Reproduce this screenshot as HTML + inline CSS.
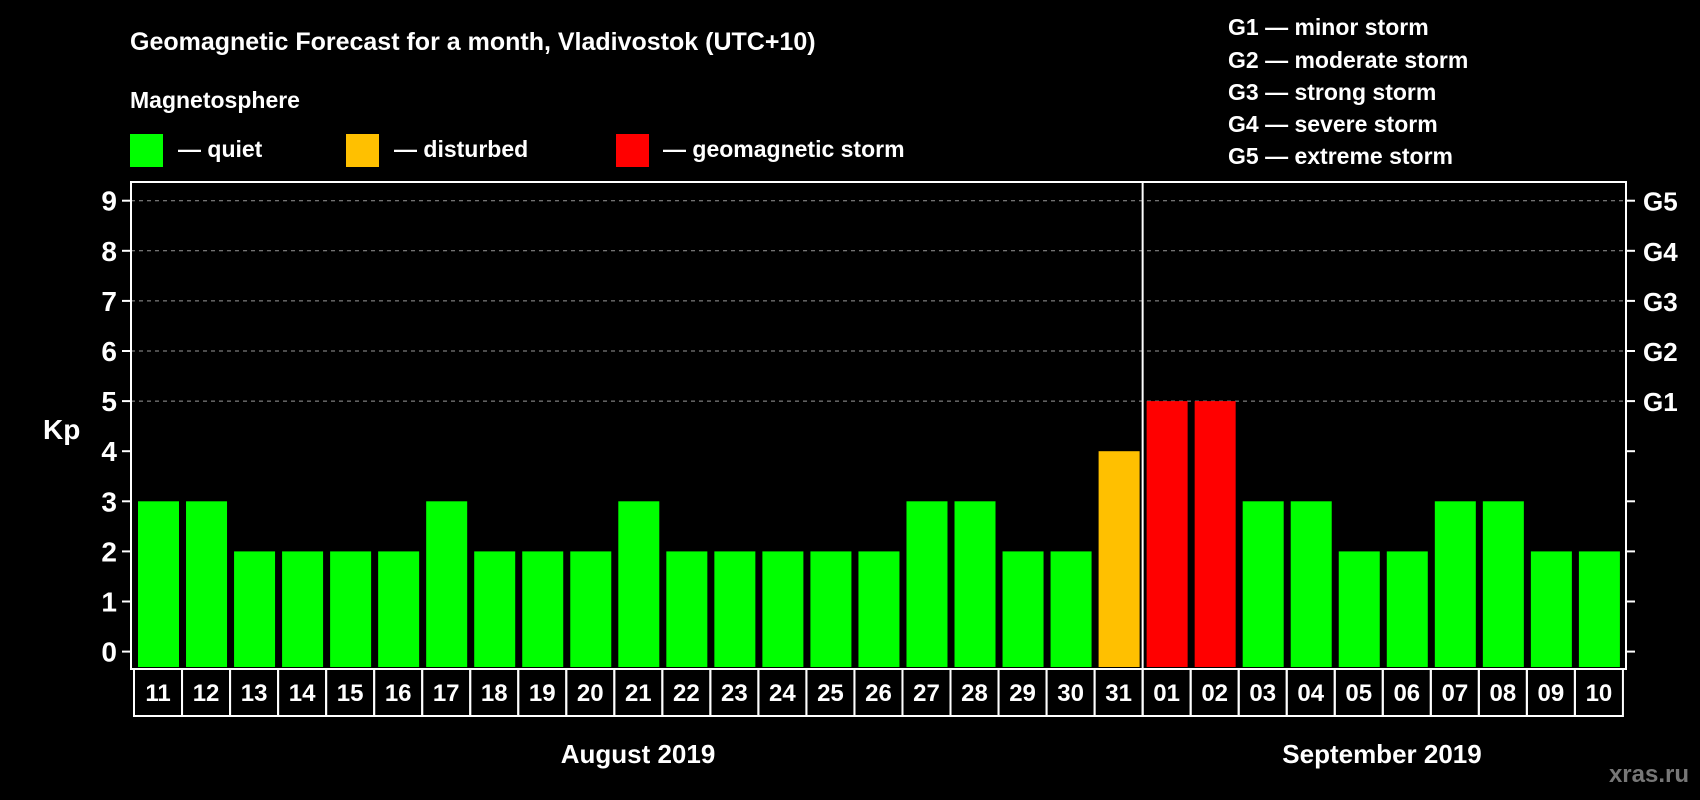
<!DOCTYPE html>
<html><head><meta charset="utf-8"><style>
html,body{margin:0;padding:0;background:#000;}
svg{display:block;font-family:"Liberation Sans",Arial,sans-serif;font-weight:bold;}
</style></head><body>
<svg id="chart" width="1700" height="800" viewBox="0 0 1700 800">
<rect x="0" y="0" width="1700" height="800" fill="#000"/>
<text x="130" y="50" fill="#fff" font-size="25">Geomagnetic Forecast for a month, Vladivostok (UTC+10)</text>
<text x="130" y="108" fill="#fff" font-size="23">Magnetosphere</text>
<g><rect x="130" y="134" width="33" height="33" fill="#00ff00"/><text x="178" y="157" fill="#fff" font-size="23">— quiet</text></g>
<g><rect x="346" y="134" width="33" height="33" fill="#ffc000"/><text x="394" y="157" fill="#fff" font-size="23">— disturbed</text></g>
<g><rect x="616" y="134" width="33" height="33" fill="#ff0000"/><text x="663" y="157" fill="#fff" font-size="23">— geomagnetic storm</text></g>
<g fill="#fff" font-size="23">
<text x="1228" y="35">G1 — minor storm</text>
<text x="1228" y="68">G2 — moderate storm</text>
<text x="1228" y="100">G3 — strong storm</text>
<text x="1228" y="132">G4 — severe storm</text>
<text x="1228" y="164">G5 — extreme storm</text>
</g>
<text x="43" y="439" fill="#fff" font-size="28">Kp</text>
<g id="grid"></g><g id="bars"></g><g id="axes"></g>
<text x="638" y="763" fill="#fff" font-size="26" text-anchor="middle">August 2019</text>
<text x="1382" y="763" fill="#fff" font-size="26" text-anchor="middle">September 2019</text>
<text x="1689" y="782" fill="#777" font-size="24" text-anchor="end">xras.ru</text>
</svg>
<script>
const days = ["11","12","13","14","15","16","17","18","19","20","21","22","23","24","25","26","27","28","29","30","31","01","02","03","04","05","06","07","08","09","10"];
const kpValues = [3,3,2,2,2,2,3,2,2,2,3,2,2,2,2,2,3,3,2,2,4,5,5,3,3,2,2,3,3,2,2];
const yTicks = [0,1,2,3,4,5,6,7,8,9];
const gLabels = ["G1","G2","G3","G4","G5"];
const ns="http://www.w3.org/2000/svg";
const L=131,R=1626,T=182,B=669,cellL=134,cell=48.03,bw=41;
function y(v){return 651.6-v*50.1;}
function x(i){return cellL+i*cell;}
function mk(tag,attrs,parent){const e=document.createElementNS(ns,tag);for(const k in attrs)e.setAttribute(k,attrs[k]);parent.appendChild(e);return e;}
const grid=document.getElementById('grid'),bars=document.getElementById('bars'),axes=document.getElementById('axes');
yTicks.forEach(v=>{
  if(v>=5){const g=mk('line',{x1:L,x2:R,y1:y(v),y2:y(v),stroke:'#999','stroke-width':1,'stroke-dasharray':'4,4'},grid);
  
  }
  const t=mk('line',{x1:L-9,x2:L,y1:y(v),y2:y(v),stroke:'#fff','stroke-width':2},axes);
  
  
  const t2=mk('line',{x1:R,x2:R+9,y1:y(v),y2:y(v),stroke:'#fff','stroke-width':2},axes);
  
  
  const lb=mk('text',{x:L-14,y:y(v)+10,fill:'#fff','font-size':28,'text-anchor':'end'},axes);lb.textContent=v;
  
  
});
gLabels.forEach((g,i)=>{
  const t=mk('text',{x:R+17,y:y(5+i)+10,fill:'#fff','font-size':26},axes);t.textContent=g;
  
  
});
kpValues.forEach((v,i)=>{
  const c=v>=5?'#ff0000':(v>=4?'#ffc000':'#00ff00');
  const b=mk('rect',{x:x(i)+4,y:y(v),width:bw,height:B-2-y(v),fill:c},bars);
  
  
});
const fr=mk('rect',{x:L,y:T,width:R-L,height:B-T,fill:'none',stroke:'#fff','stroke-width':2},axes);


days.forEach((d,i)=>{
  const r=mk('rect',{x:x(i),y:B,width:cell,height:47,fill:'none',stroke:'#fff','stroke-width':2},axes);
  
  
  const t=mk('text',{x:x(i)+cell/2,y:B+32,fill:'#fff','font-size':24,'text-anchor':'middle'},axes);t.textContent=d;
  
  
});
const mi=days.indexOf("01");
const dv=mk('line',{x1:x(mi),x2:x(mi),y1:T,y2:B+47,stroke:'#fff','stroke-width':2},axes);


</script>
</body></html>
